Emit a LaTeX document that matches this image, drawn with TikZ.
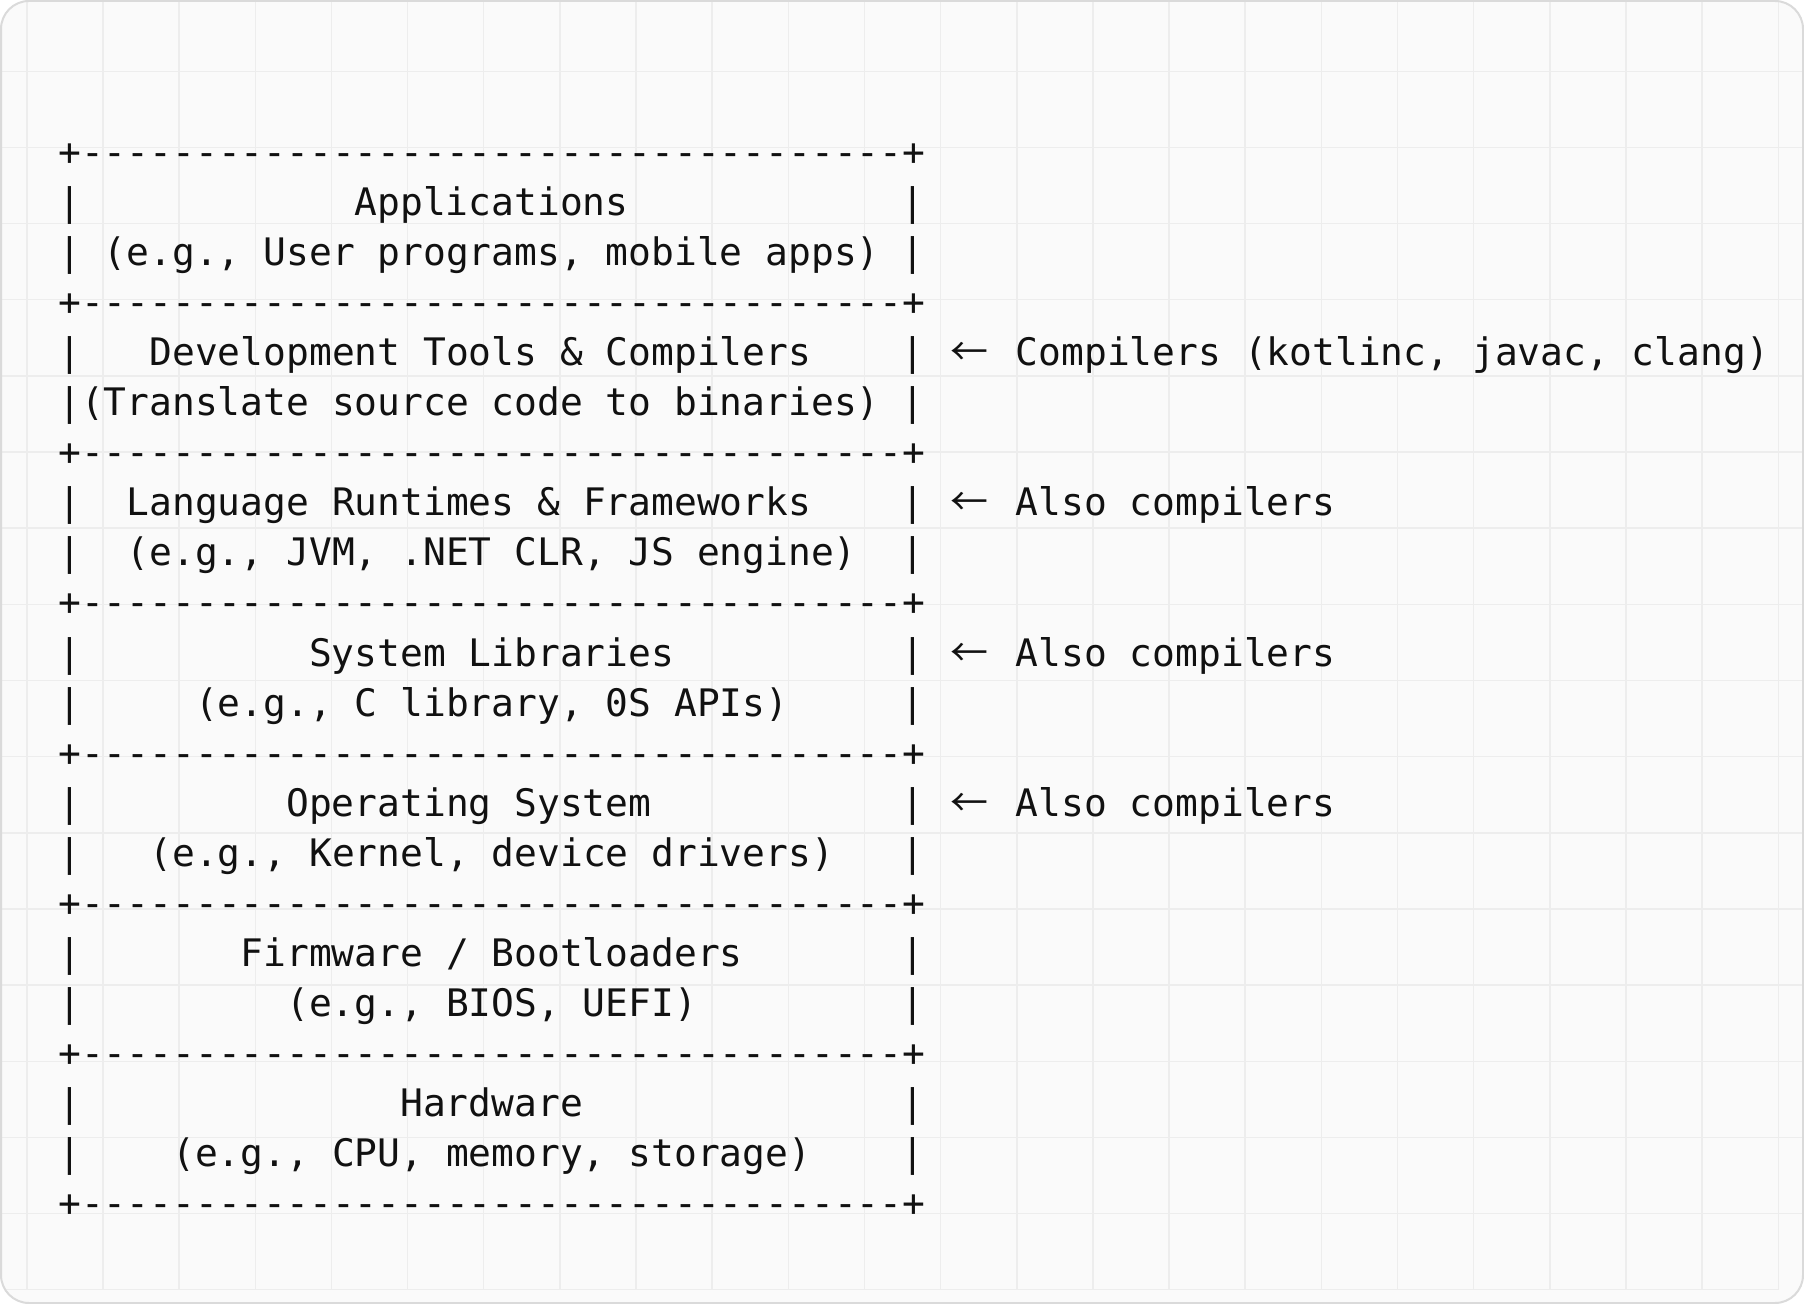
\documentclass[tikz,border=0pt]{standalone}
\usepackage{fontspec}
\setmonofont{DejaVu Sans Mono}
\newfontfamily\cjk{Noto Sans CJK SC}
\usetikzlibrary{positioning}

\definecolor{paper}{HTML}{FAFAFA}
\definecolor{gridline}{HTML}{EDEDED}
\definecolor{frame}{HTML}{DADADA}
\definecolor{ink}{HTML}{111111}

\newcommand\colw{22.8}
\newcommand\rowh{50}

\begin{document}
\frenchspacing
\begin{tikzpicture}[x=0.5pt, y=-0.5pt,
	ascii/.style={inner sep=0pt, anchor=base west, text=ink, font=\ttfamily\fontsize{18.95pt}{20pt}\selectfont},
	arrow_glyph/.style={inner sep=0pt, anchor=base, text=ink, font=\cjk\fontsize{18.95pt}{20pt}\selectfont},
	grid_line/.style={draw=gridline, line width=0.75pt}]
	
	\useasboundingbox (0,0) rectangle (1804,1304);
	\fill[paper, rounded corners=14pt] (1,1) rectangle (1803,1303);
	
	% background grid
	\begin{scope}
		\clip[rounded corners=14pt] (1,1) rectangle (1803,1303);
		\foreach \k in {0,...,23}
		\draw[grid_line] ({26.8+76.15*\k},0) -- ({26.8+76.15*\k},1290);
		\foreach \k in {0,...,15}
		\draw[grid_line] (0,{71.3+76.15*\k}) -- (1804,{71.3+76.15*\k});
		\draw[grid_line] (0,1289.7) -- (1778.3,1289.7);
	\end{scope}
	\draw[frame, line width=1pt, rounded corners=14pt] (1,1) rectangle (1803,1303);
	
	% box rules and side bars
	\foreach \r in {0,3,...,21}
	\node[ascii] (rule\r) at (57.9,{166+\rowh*\r}) {+------------------------------------+};
	\foreach \r in {1,2,4,5,7,8,10,11,13,14,16,17,19,20}
	{
		\node[ascii] (barl\r) at (57.9,{166+\rowh*\r}) {|};
		\node[ascii] (barr\r) at ({57.9+\colw*37},{166+\rowh*\r}) {|};
	}
	
	% layers
	\node[ascii] (apps) at ({57.9+\colw*13},{166+\rowh*1}) {Applications};
	\node[ascii] (apps_eg) at ({57.9+\colw*2},{166+\rowh*2}) {(e.g., User programs, mobile apps)};
	\node[ascii] (tools) at ({57.9+\colw*4},{166+\rowh*4}) {Development Tools \& Compilers};
	\node[ascii] (tools_eg) at ({57.9+\colw*1},{166+\rowh*5}) {(Translate source code to binaries)};
	\node[ascii] (runtimes) at ({57.9+\colw*3},{166+\rowh*7}) {Language Runtimes \& Frameworks};
	\node[ascii] (runtimes_eg) at ({57.9+\colw*3},{166+\rowh*8}) {(e.g., JVM, .NET CLR, JS engine)};
	\node[ascii] (libs) at ({57.9+\colw*11},{166+\rowh*10}) {System Libraries};
	\node[ascii] (libs_eg) at ({57.9+\colw*6},{166+\rowh*11}) {(e.g., C library, 0S APIs)};
	\node[ascii] (os) at ({57.9+\colw*10},{166+\rowh*13}) {Operating System};
	\node[ascii] (os_eg) at ({57.9+\colw*4},{166+\rowh*14}) {(e.g., Kernel, device drivers)};
	\node[ascii] (firmware) at ({57.9+\colw*8},{166+\rowh*16}) {Firmware / Bootloaders};
	\node[ascii] (firmware_eg) at ({57.9+\colw*10},{166+\rowh*17}) {(e.g., BIOS, UEFI)};
	\node[ascii] (hw) at ({57.9+\colw*15},{166+\rowh*19}) {Hardware};
	\node[ascii] (hw_eg) at ({57.9+\colw*5},{166+\rowh*20}) {(e.g., CPU, memory, storage)};
	
	% side notes
	\foreach \r in {4,7,10,13}
	\node[arrow_glyph] (arr\r) at ({57.9+\colw*40},{166+\rowh*\r}) {←};
	\node[ascii] (note_tools) at ({57.9+\colw*42},{166+\rowh*4}) {Compilers (kotlinc, javac, clang)};
	\node[ascii] (note_runtimes) at ({57.9+\colw*42},{166+\rowh*7}) {Also compilers};
	\node[ascii] (note_libs) at ({57.9+\colw*42},{166+\rowh*10}) {Also compilers};
	\node[ascii] (note_os) at ({57.9+\colw*42},{166+\rowh*13}) {Also compilers};
\end{tikzpicture}
\end{document}
